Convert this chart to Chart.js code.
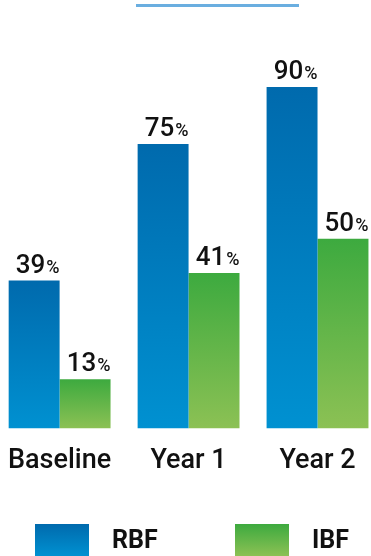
<!DOCTYPE html>
<html>
<head>
<meta charset="utf-8">
<script src="https://cdn.jsdelivr.net/npm/chart.js@4.4.1/dist/chart.umd.min.js"></script>
<style>
html, body { margin: 0; padding: 0; background: #fff; overflow: hidden; }
#wrap { position: absolute; left: -8px; top: 0; width: 390px; height: 556px; }
</style>
</head>
<body>
<div id="wrap"><canvas id="chart"></canvas></div>
<script>
"use strict";

var categories = ["Baseline", "Year 1", "Year 2"];
var rbfValues = [39, 75, 90];
var ibfValues = [13, 41, 50];
var seriesNames = ["RBF", "IBF"];

var blueTop = "#006aad", blueBottom = "#0091d1";
var greenTop = "#3daa3f", greenBottom = "#8cc154";
var textColor = "#111111";
var fontName = "Roboto, 'Liberation Sans', sans-serif";

// each bar gets its own top-to-bottom gradient
function barGradient(top, bottom) {
  return function(c) {
    if (c.type !== "data" || !c.chart.chartArea) return top;
    var y = c.chart.scales.y;
    var v = c.parsed ? c.parsed.y : c.raw;
    var g = c.chart.ctx.createLinearGradient(0, y.getPixelForValue(v), 0, y.getPixelForValue(0));
    g.addColorStop(0, top);
    g.addColorStop(1, bottom);
    return g;
  };
}

var extras = {
  id: "extras",
  afterDatasetsDraw: function(chart) {
    var ctx = chart.ctx;
    ctx.save();
    ctx.fillStyle = textColor;
    ctx.textBaseline = "alphabetic";
    ctx.textAlign = "left";
    chart.data.datasets.forEach(function(ds, i) {
      var meta = chart.getDatasetMeta(i);
      meta.data.forEach(function(el, j) {
        var num = String(ds.data[j]);
        ctx.font = "500 26px " + fontName;
        var nw = ctx.measureText(num).width;
        ctx.font = "500 18px " + fontName;
        var pw = ctx.measureText("%").width;
        var x = el.x - (nw + pw) / 2 + 3;
        var yy = el.y - 8;
        ctx.font = "500 26px " + fontName;
        ctx.fillText(num, x, yy);
        ctx.font = "500 18px " + fontName;
        ctx.fillText("%", x + nw + 1, yy);
      });
    });
    ctx.restore();
  },
  afterDraw: function(chart) {
    var ctx = chart.ctx;
    ctx.save();
    // decorative line at the top
    ctx.fillStyle = "#6aaee0";
    ctx.fillRect(144, 4, 163, 3);

    // legend
    var boxX = [43, 243];
    var textX = [120, 320];
    var fills = [[blueTop, blueBottom], [greenTop, greenBottom]];
    for (var i = 0; i < seriesNames.length; i++) {
      var g = ctx.createLinearGradient(0, 524, 0, 556);
      g.addColorStop(0, fills[i][0]);
      g.addColorStop(1, fills[i][1]);
      ctx.fillStyle = g;
      ctx.fillRect(boxX[i], 524, 54, 32);
      ctx.fillStyle = textColor;
      ctx.font = "bold 25px " + fontName;
      ctx.textBaseline = "middle";
      ctx.fillText(seriesNames[i], textX[i], 542);
    }
    ctx.restore();
  }
};

var chart = new Chart(document.getElementById("chart").getContext("2d"), {
  type: "bar",
  data: {
    labels: categories,
    datasets: [{
      label: seriesNames[0],
      data: rbfValues,
      backgroundColor: barGradient(blueTop, blueBottom),
      barPercentage: 1.0,
      categoryPercentage: 0.79
    }, {
      label: seriesNames[1],
      data: ibfValues,
      backgroundColor: barGradient(greenTop, greenBottom),
      barPercentage: 1.0,
      categoryPercentage: 0.79
    }]
  },
  options: {
    responsive: true,
    maintainAspectRatio: false,
    animation: false,
    layout: { padding: { top: 49, bottom: 63, left: 0, right: 0 } },
    plugins: {
      legend: { display: false },
      tooltip: { enabled: false },
      title: { display: false }
    },
    scales: {
      y: { display: false, min: 0, max: 100 },
      x: {
        grid: { display: false, drawTicks: false },
        border: { display: false },
        ticks: {
          color: textColor,
          padding: 16,
          font: { family: fontName, size: 27, weight: "500" }
        }
      }
    }
  },
  plugins: [extras]
});
</script>
</body>
</html>
